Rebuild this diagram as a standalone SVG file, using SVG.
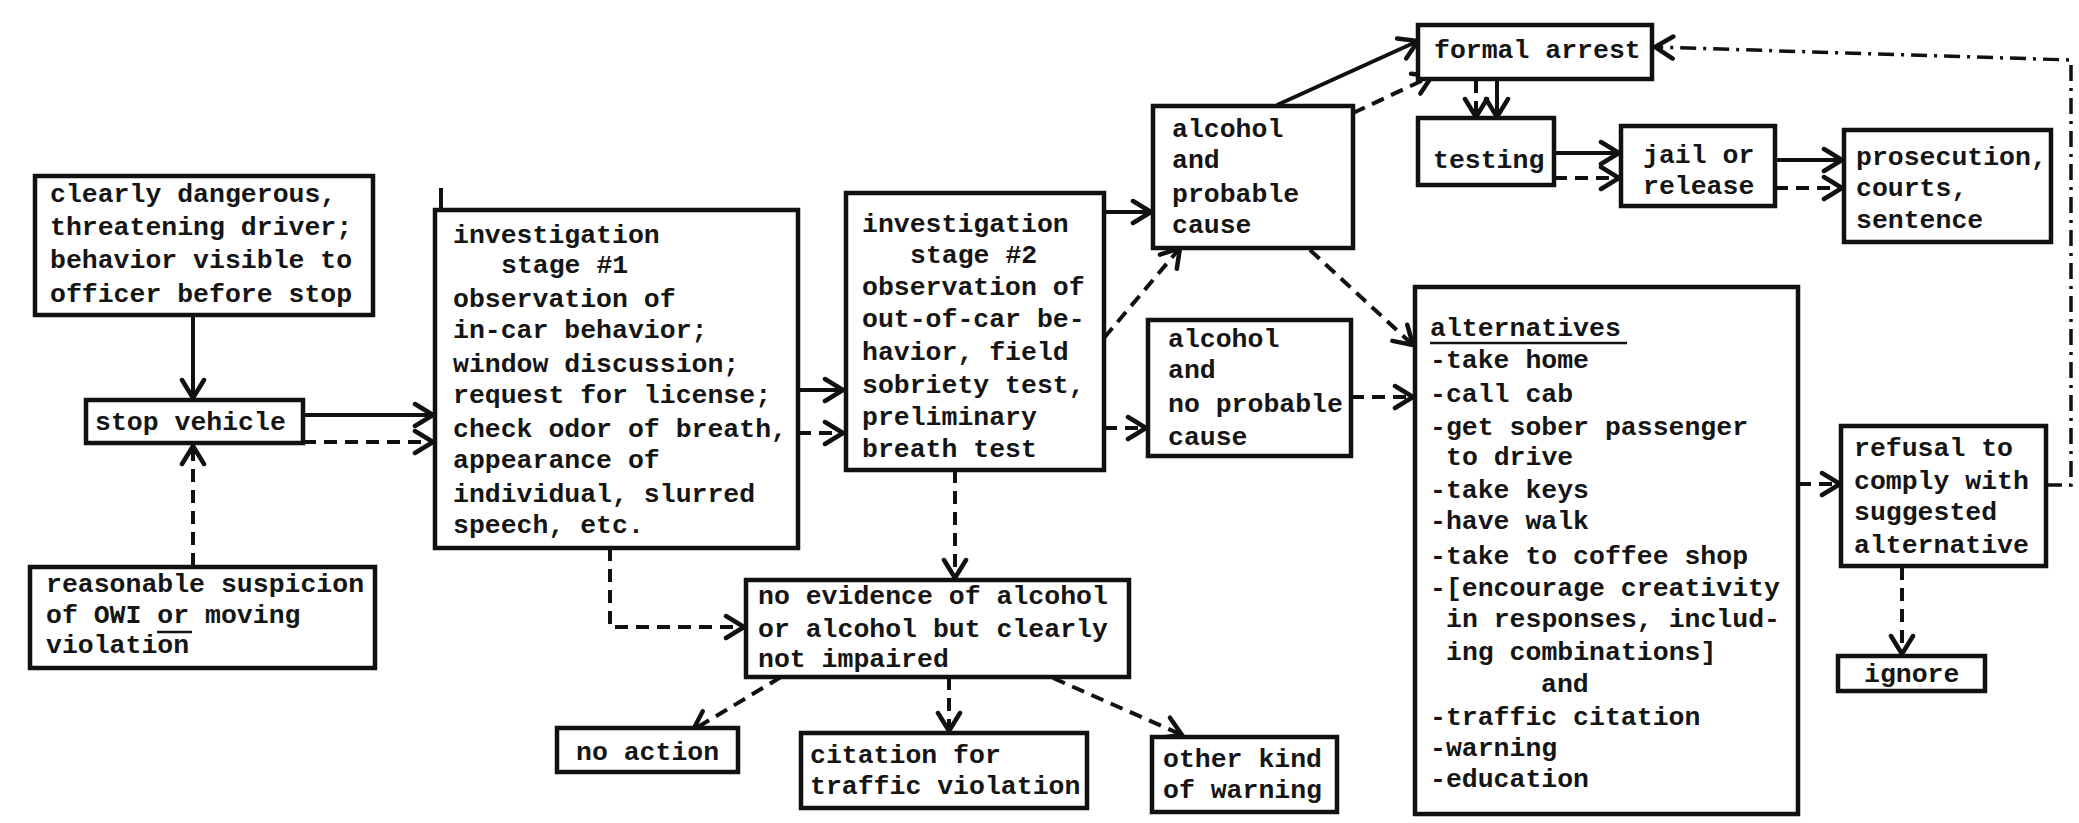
<svg xmlns="http://www.w3.org/2000/svg" width="2079" height="823" viewBox="0 0 2079 823">
<style>
  .box { fill: #ffffff; stroke: #111; stroke-width: 4.5; }
  .t { font-family: "Liberation Mono", "DejaVu Sans Mono", monospace; font-size: 26.5px; font-weight: bold; fill: #151515; }
  .c { fill: none; stroke: #111; stroke-width: 4; stroke-linecap: butt; stroke-linejoin: miter; }
  .d { stroke-dasharray: 13 8; }
  .dd { stroke-dasharray: 16 7 3 7; stroke-width: 3.5; }
  .u { stroke: #151515; stroke-width: 2.5; }
</style>
<defs>
  <marker id="ah" markerUnits="userSpaceOnUse" viewBox="-22 -14 26 28" markerWidth="26" markerHeight="28" refX="0" refY="0" orient="auto">
    <path d="M-18,-11 L0,0 L-18,11" fill="none" stroke="#111" stroke-width="4.5" stroke-linecap="round" stroke-linejoin="miter"/>
  </marker>
</defs>
<rect x="0" y="0" width="2079" height="823" fill="#ffffff"/>

<g id="connectors">
  <line class="c" x1="193" y1="316" x2="193" y2="398" marker-end="url(#ah)"/>
  <line class="c d" x1="193" y1="566" x2="193" y2="446" marker-end="url(#ah)"/>
  <line class="c" x1="303" y1="415" x2="433" y2="415" marker-end="url(#ah)"/>
  <line class="c d" x1="303" y1="442" x2="433" y2="442" marker-end="url(#ah)"/>
  <line class="c" x1="798" y1="390" x2="843" y2="390" marker-end="url(#ah)"/>
  <line class="c d" x1="798" y1="433" x2="843" y2="433" marker-end="url(#ah)"/>
  <polyline class="c d" points="610,548 610,627 744,627" marker-end="url(#ah)"/>
  <line class="c" x1="1104" y1="212" x2="1151" y2="212" marker-end="url(#ah)"/>
  <line class="c d" x1="1104" y1="338" x2="1180" y2="248" marker-end="url(#ah)"/>
  <line class="c d" x1="1104" y1="428" x2="1146" y2="428" marker-end="url(#ah)"/>
  <line class="c d" x1="955" y1="470" x2="955" y2="578" marker-end="url(#ah)"/>
  <line class="c" x1="1277" y1="105" x2="1418" y2="41" marker-end="url(#ah)"/>
  <line class="c d" x1="1353" y1="113" x2="1432" y2="76" marker-end="url(#ah)"/>
  <line class="c d" x1="1310" y1="250" x2="1413" y2="345" marker-end="url(#ah)"/>
  <line class="c d" x1="1351" y1="397" x2="1413" y2="397" marker-end="url(#ah)"/>
  <line class="c d" x1="1476" y1="80" x2="1476" y2="117" marker-end="url(#ah)"/>
  <line class="c" x1="1497" y1="80" x2="1497" y2="117" marker-end="url(#ah)"/>
  <line class="c" x1="1554" y1="153" x2="1619" y2="153" marker-end="url(#ah)"/>
  <line class="c d" x1="1554" y1="178" x2="1619" y2="178" marker-end="url(#ah)"/>
  <line class="c" x1="1775" y1="160" x2="1842" y2="160" marker-end="url(#ah)"/>
  <line class="c d" x1="1775" y1="188" x2="1842" y2="188" marker-end="url(#ah)"/>
  <line class="c d" x1="1798" y1="484" x2="1840" y2="484" marker-end="url(#ah)"/>
  <line class="c d" x1="1902" y1="567" x2="1902" y2="654" marker-end="url(#ah)"/>
  <polyline class="c dd" points="2046,485 2071,485 2071,60 1655,47" marker-end="url(#ah)"/>
  <line class="c d" x1="781" y1="677" x2="693" y2="730" marker-end="url(#ah)"/>
  <line class="c d" x1="949" y1="677" x2="949" y2="731" marker-end="url(#ah)"/>
  <line class="c d" x1="1053" y1="678" x2="1182" y2="735" marker-end="url(#ah)"/>
  <line class="c" x1="441" y1="188" x2="441" y2="210"/>
</g>

<g id="clearly-dangerous">
  <rect class="box" x="35" y="176" width="338" height="139"/>
  <text class="t" x="50" y="202">clearly dangerous,</text>
  <text class="t" x="50" y="235">threatening driver;</text>
  <text class="t" x="50" y="268">behavior visible to</text>
  <text class="t" x="50" y="302">officer before stop</text>
</g>

<g id="stop-vehicle">
  <rect class="box" x="86" y="400" width="217" height="43"/>
  <text class="t" x="95" y="430">stop vehicle</text>
</g>

<g id="reasonable-suspicion">
  <rect class="box" x="30" y="567" width="345" height="101"/>
  <text class="t" x="46" y="592">reasonable suspicion</text>
  <text class="t" x="46" y="623">of OWI or moving</text>
  <text class="t" x="46" y="653">violation</text>
  <line class="u" x1="157" y1="632" x2="192" y2="632"/>
</g>

<g id="stage1">
  <rect class="box" x="435" y="210" width="363" height="338"/>
  <text class="t" x="453" y="243">investigation</text>
  <text class="t" x="501" y="273">stage #1</text>
  <text class="t" x="453" y="307">observation of</text>
  <text class="t" x="453" y="338">in-car behavior;</text>
  <text class="t" x="453" y="372">window discussion;</text>
  <text class="t" x="453" y="403">request for license;</text>
  <text class="t" x="453" y="437">check odor of breath,</text>
  <text class="t" x="453" y="468">appearance of</text>
  <text class="t" x="453" y="502">individual, slurred</text>
  <text class="t" x="453" y="533">speech, etc.</text>
</g>

<g id="stage2">
  <rect class="box" x="846" y="193" width="258" height="277"/>
  <text class="t" x="862" y="232">investigation</text>
  <text class="t" x="910" y="263">stage #2</text>
  <text class="t" x="862" y="295">observation of</text>
  <text class="t" x="862" y="327">out-of-car be-</text>
  <text class="t" x="862" y="360">havior, field</text>
  <text class="t" x="862" y="393">sobriety test,</text>
  <text class="t" x="862" y="425">preliminary</text>
  <text class="t" x="862" y="457">breath test</text>
</g>

<g id="alcohol-probable">
  <rect class="box" x="1153" y="106" width="200" height="142"/>
  <text class="t" x="1172" y="137">alcohol</text>
  <text class="t" x="1172" y="168">and</text>
  <text class="t" x="1172" y="202">probable</text>
  <text class="t" x="1172" y="233">cause</text>
</g>

<g id="alcohol-no-probable">
  <rect class="box" x="1148" y="320" width="203" height="136"/>
  <text class="t" x="1168" y="347">alcohol</text>
  <text class="t" x="1168" y="378">and</text>
  <text class="t" x="1168" y="412">no probable</text>
  <text class="t" x="1168" y="445">cause</text>
</g>

<g id="formal-arrest">
  <rect class="box" x="1418" y="25" width="234" height="54"/>
  <text class="t" x="1434" y="58">formal arrest</text>
</g>

<g id="testing">
  <rect class="box" x="1418" y="118" width="136" height="67"/>
  <text class="t" x="1433" y="168">testing</text>
</g>

<g id="jail-release">
  <rect class="box" x="1621" y="126" width="154" height="80"/>
  <text class="t" x="1643" y="163">jail or</text>
  <text class="t" x="1643" y="194">release</text>
</g>

<g id="prosecution">
  <rect class="box" x="1844" y="130" width="207" height="112"/>
  <text class="t" x="1856" y="165">prosecution,</text>
  <text class="t" x="1856" y="196">courts,</text>
  <text class="t" x="1856" y="228">sentence</text>
</g>

<g id="alternatives">
  <rect class="box" x="1415" y="287" width="383" height="527"/>
  <text class="t" x="1430" y="336">alternatives</text>
  <line class="u" x1="1430" y1="343" x2="1627" y2="343"/>
  <text class="t" x="1430" y="368">-take home</text>
  <text class="t" x="1430" y="402">-call cab</text>
  <text class="t" x="1430" y="435">-get sober passenger</text>
  <text class="t" x="1446" y="465">to drive</text>
  <text class="t" x="1430" y="498">-take keys</text>
  <text class="t" x="1430" y="529">-have walk</text>
  <text class="t" x="1430" y="564">-take to coffee shop</text>
  <text class="t" x="1430" y="596">-[encourage creativity</text>
  <text class="t" x="1446" y="627">in responses, includ-</text>
  <text class="t" x="1446" y="660">ing combinations]</text>
  <text class="t" x="1541" y="692">and</text>
  <text class="t" x="1430" y="725">-traffic citation</text>
  <text class="t" x="1430" y="756">-warning</text>
  <text class="t" x="1430" y="787">-education</text>
</g>

<g id="refusal">
  <rect class="box" x="1841" y="426" width="205" height="140"/>
  <text class="t" x="1854" y="456">refusal to</text>
  <text class="t" x="1854" y="489">comply with</text>
  <text class="t" x="1854" y="520">suggested</text>
  <text class="t" x="1854" y="553">alternative</text>
</g>

<g id="ignore">
  <rect class="box" x="1838" y="656" width="147" height="35"/>
  <text class="t" x="1864" y="682">ignore</text>
</g>

<g id="no-evidence">
  <rect class="box" x="746" y="580" width="383" height="97"/>
  <text class="t" x="758" y="604">no evidence of alcohol</text>
  <text class="t" x="758" y="637">or alcohol but clearly</text>
  <text class="t" x="758" y="667">not impaired</text>
</g>

<g id="no-action">
  <rect class="box" x="557" y="728" width="181" height="44"/>
  <text class="t" x="576" y="760">no action</text>
</g>

<g id="citation">
  <rect class="box" x="801" y="733" width="286" height="75"/>
  <text class="t" x="810" y="763">citation for</text>
  <text class="t" x="810" y="794">traffic violation</text>
</g>

<g id="other-warning">
  <rect class="box" x="1152" y="737" width="185" height="75"/>
  <text class="t" x="1163" y="767">other kind</text>
  <text class="t" x="1163" y="798">of warning</text>
</g>
</svg>
